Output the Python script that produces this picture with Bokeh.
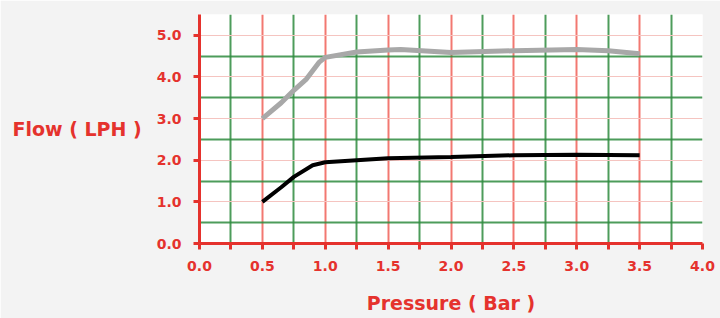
from bokeh.plotting import figure
from bokeh.models import FixedTicker, Grid, Range1d
from bokeh.embed import file_html
from bokeh.resources import INLINE

# data
gray_x = [0.5, 0.65, 0.75, 0.85, 0.95, 1.0, 1.25, 1.5, 1.6, 2.0, 2.5, 3.0, 3.25, 3.5]
gray_y = [3.0, 3.38, 3.68, 3.95, 4.35, 4.47, 4.6, 4.65, 4.66, 4.59, 4.63, 4.66, 4.63, 4.56]
black_x = [0.5, 0.65, 0.75, 0.9, 1.0, 1.5, 2.0, 2.5, 3.0, 3.5]
black_y = [1.0, 1.35, 1.6, 1.88, 1.95, 2.05, 2.08, 2.12, 2.13, 2.12]
x_major = [0.0, 0.5, 1.0, 1.5, 2.0, 2.5, 3.0, 3.5, 4.0]
x_minor = [0.25, 0.75, 1.25, 1.75, 2.25, 2.75, 3.25, 3.75]
y_major = [0.0, 1.0, 2.0, 3.0, 4.0, 5.0]
y_half = [0.5, 1.5, 2.5, 3.5, 4.5, 5.5]

RED = "#e5322d"
FONT = "DejaVu Sans"

p = figure(width=720, height=318, output_backend="svg", toolbar_location=None,
           x_range=Range1d(0, 4), y_range=Range1d(0, 5.5),
           min_border_left=199, min_border_right=18, min_border_top=14, min_border_bottom=75)
p.border_fill_color = "#f3f3f3"
p.background_fill_color = "white"
p.outline_line_color = None

p.xgrid.visible = False
p.ygrid.visible = False

# grids
p.add_layout(Grid(dimension=0, ticker=FixedTicker(ticks=x_minor), grid_line_color="#2e8b3e", grid_line_width=2, grid_line_alpha=0.85))
p.add_layout(Grid(dimension=0, ticker=FixedTicker(ticks=x_major), grid_line_color="#f06058", grid_line_width=2, grid_line_alpha=0.85))
p.add_layout(Grid(dimension=1, ticker=FixedTicker(ticks=y_major), grid_line_color="#f5c4c0", grid_line_width=1))
p.add_layout(Grid(dimension=1, ticker=FixedTicker(ticks=y_half), grid_line_color="#2e8b3e", grid_line_width=2, grid_line_alpha=0.85))

p.line(gray_x, gray_y, line_color="#a8a8a8", line_width=5)
p.line(black_x, black_y, line_color="black", line_width=4)

for ax in (p.xaxis[0], p.yaxis[0]):
    ax.axis_line_color = RED
    ax.axis_line_width = 3
    ax.major_tick_line_color = RED
    ax.major_tick_line_width = 3
    ax.major_tick_out = 6
    ax.major_tick_in = 0
    ax.minor_tick_line_color = RED
    ax.minor_tick_line_width = 3
    ax.minor_tick_out = 6
    ax.minor_tick_in = 0
    ax.major_label_text_color = RED
    ax.major_label_text_font = FONT
    ax.major_label_text_font_style = "bold"
    ax.major_label_text_font_size = "14px"
    ax.axis_label_text_color = RED
    ax.axis_label_text_font = FONT
    ax.axis_label_text_font_style = "bold"
    ax.axis_label_text_font_size = "19px"

p.xaxis[0].ticker = FixedTicker(ticks=x_major, minor_ticks=x_minor)
p.yaxis[0].ticker = FixedTicker(ticks=y_major, minor_ticks=[])
p.xaxis[0].major_label_overrides = {v: f"{v:.1f}" for v in x_major}
p.yaxis[0].major_label_overrides = {v: f"{v:.1f}" for v in y_major}
p.xaxis[0].major_label_standoff = 11
p.yaxis[0].major_label_standoff = 12
p.xaxis.axis_label = "Pressure ( Bar )"
p.xaxis[0].axis_label_standoff = 18
p.yaxis.axis_label = "Flow ( LPH )"
p.yaxis[0].axis_label_orientation = "horizontal"
p.yaxis[0].axis_label_standoff = 12

open("out.html", "w").write(file_html(p, INLINE))
